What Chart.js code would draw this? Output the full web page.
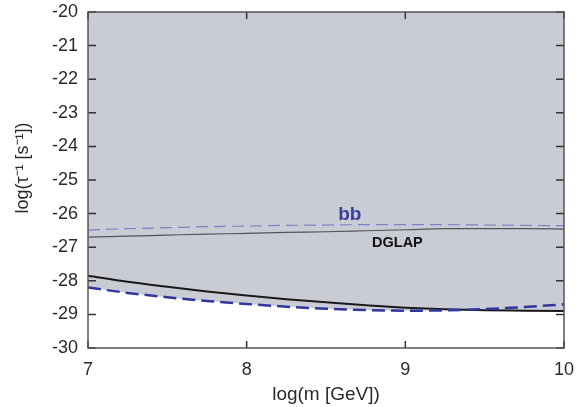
<!DOCTYPE html>
<html>
<head>
<meta charset="utf-8">
<script src="https://cdn.jsdelivr.net/npm/chart.js@4.4.1/dist/chart.umd.min.js"></script>
<style>
html,body{margin:0;padding:0;background:#fff;}
#wrap{width:587px;height:407px;}
</style>
</head>
<body>
<div id="wrap"><canvas id="c" width="587" height="407"></canvas></div>
<script>
// log(m [GeV])
const logMass = [7, 7.25, 7.5, 7.75, 8, 8.25, 8.5, 8.75, 9, 9.25, 9.5, 9.75, 10];
// upper curves
const bbUpper    = [-26.49, -26.45, -26.42, -26.39, -26.37, -26.35, -26.34, -26.33, -26.33, -26.33, -26.34, -26.35, -26.36];
const dglapUpper = [-26.70, -26.67, -26.64, -26.61, -26.59, -26.56, -26.54, -26.51, -26.48, -26.45, -26.45, -26.45, -26.46];
// lower curves
const dglapLower = [-27.85, -28.03, -28.18, -28.32, -28.44, -28.55, -28.64, -28.73, -28.80, -28.85, -28.88, -28.89, -28.90];
const bbLower    = [-28.20, -28.36, -28.49, -28.60, -28.69, -28.77, -28.83, -28.87, -28.89, -28.88, -28.84, -28.78, -28.70];
// ticks
const xTicks = [7, 8, 9, 10];
const yTicks = [-30, -29, -28, -27, -26, -25, -24, -23, -22, -21, -20];
// curve labels
const labelTexts = ['bb', 'DGLAP'];
const labelX = [8.65, 8.95];
const labelY = [-26.03, -26.88];
const yTitle = 'log(τ⁻¹ [s⁻¹])';
const xTitle = 'log(m [GeV])';

const envelope = logMass.map((x, i) => ({x, y: Math.min(dglapLower[i], bbLower[i])}));
const pts = arr => logMass.map((x, i) => ({x, y: arr[i]}));

const FONT = "'Liberation Sans', Arial, sans-serif";
const TXT = '#2a2a2a';

const framePlugin = {
  id: 'frame',
  afterDatasetsDraw(chart) {
    const {ctx, chartArea: a, scales: {x, y}} = chart;
    ctx.save();
    ctx.strokeStyle = '#333';
    ctx.lineWidth = 1.5;
    // ticks inward on all sides
    xTicks.forEach(v => {
      const px = x.getPixelForValue(v);
      ctx.beginPath();
      ctx.moveTo(px, a.bottom); ctx.lineTo(px, a.bottom - 7);
      ctx.moveTo(px, a.top); ctx.lineTo(px, a.top + 7);
      ctx.stroke();
    });
    yTicks.forEach(v => {
      const py = y.getPixelForValue(v);
      ctx.beginPath();
      ctx.moveTo(a.left, py); ctx.lineTo(a.left + 8, py);
      ctx.moveTo(a.right, py); ctx.lineTo(a.right - 8, py);
      ctx.stroke();
    });
    ctx.strokeStyle = '#555';
    ctx.lineWidth = 1.5;
    ctx.strokeRect(a.left, a.top, a.right - a.left, a.bottom - a.top);
    // curve labels
    ctx.textAlign = 'center';
    ctx.textBaseline = 'middle';
    ctx.fillStyle = '#3a3f9e';
    ctx.font = "bold 19px " + FONT;
    ctx.fillText(labelTexts[0], x.getPixelForValue(labelX[0]), y.getPixelForValue(labelY[0]));
    ctx.fillStyle = '#111';
    ctx.font = "bold 14.5px " + FONT;
    ctx.fillText(labelTexts[1], x.getPixelForValue(labelX[1]), y.getPixelForValue(labelY[1]));
    // y axis title
    ctx.save();
    ctx.translate(23, y.getPixelForValue(-25) - 12);
    ctx.rotate(-Math.PI / 2);
    ctx.fillStyle = TXT;
    ctx.font = "18px " + FONT;
    ctx.fillText(yTitle, 0, 0);
    ctx.restore();
    ctx.restore();
  }
};

new Chart(document.getElementById('c'), {
  type: 'line',
  data: {
    datasets: [
      {label: 'region', data: envelope, borderWidth: 0, borderColor: 'rgba(0,0,0,0)', backgroundColor: '#c9ccd4', fill: 'end', pointRadius: 0, cubicInterpolationMode: 'monotone', order: 10},
      {label: 'bb upper', data: pts(bbUpper), borderColor: '#7c82c4', borderWidth: 1.2, borderDash: [12, 6], fill: false, pointRadius: 0, cubicInterpolationMode: 'monotone', order: 4},
      {label: 'DGLAP upper', data: pts(dglapUpper), borderColor: '#555', borderWidth: 1.2, fill: false, pointRadius: 0, cubicInterpolationMode: 'monotone', order: 3},
      {label: 'DGLAP lower', data: pts(dglapLower), borderColor: '#1a1a1a', borderWidth: 2, fill: false, pointRadius: 0, cubicInterpolationMode: 'monotone', order: 2},
      {label: 'bb lower', data: pts(bbLower), borderColor: '#2e379c', borderWidth: 2.5, borderDash: [13, 6], fill: false, pointRadius: 0, cubicInterpolationMode: 'monotone', order: 1}
    ]
  },
  options: {
    responsive: false,
    animation: false,
    devicePixelRatio: 1,
    layout: {padding: {left: 0, right: 23, top: 12, bottom: 0}},
    plugins: {legend: {display: false}, tooltip: {enabled: false}},
    scales: {
      x: {
        type: 'linear', min: 7, max: 10,
        afterBuildTicks: s => { s.ticks = xTicks.map(v => ({value: v})); },
        afterFit: s => { s.height = 59; s.paddingLeft = 0; s.paddingRight = 0; },
        grid: {display: false, drawTicks: false},
        border: {display: false},
        ticks: {padding: 11, color: TXT, font: {family: FONT, size: 18}, maxRotation: 0},
        title: {display: true, text: xTitle, color: TXT, font: {family: FONT, size: 19}, padding: {top: 0, bottom: 1}}
      },
      y: {
        type: 'linear', min: -30, max: -20,
        afterBuildTicks: s => { s.ticks = yTicks.map(v => ({value: v})); },
        afterFit: s => { s.width = 88; s.paddingTop = 0; s.paddingBottom = 0; },
        grid: {display: false, drawTicks: false},
        border: {display: false},
        ticks: {padding: 10, color: TXT, font: {family: FONT, size: 18}},
        title: {display: false}
      }
    }
  },
  plugins: [framePlugin]
});
</script>
</body>
</html>
